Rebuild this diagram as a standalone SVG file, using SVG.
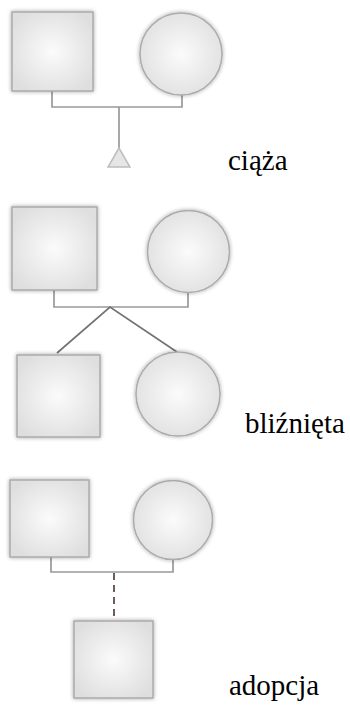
<svg xmlns="http://www.w3.org/2000/svg" width="350" height="713" viewBox="0 0 350 713">
<defs>
<radialGradient id="g" cx="50%" cy="50%" r="60%">
<stop offset="0" stop-color="#fbfbfb"/>
<stop offset="1" stop-color="#dedede"/>
</radialGradient>
<filter id="sh" x="-20%" y="-20%" width="140%" height="140%">
<feGaussianBlur in="SourceAlpha" stdDeviation="2"/>
<feComponentTransfer><feFuncA type="linear" slope="0.35"/></feComponentTransfer>
<feMerge><feMergeNode/><feMergeNode in="SourceGraphic"/></feMerge>
</filter>
<style>
.n{fill:url(#g);stroke:#ababab;stroke-width:1.5;filter:url(#sh)}
.c{fill:none;stroke:#999;stroke-width:1.7}
.c2{fill:none;stroke:#737373;stroke-width:1.7}
.d{fill:none;stroke:#5e4c4a;stroke-width:1.8;stroke-dasharray:7 5}
.t{font-size:29px;fill:#000}
</style>
</defs>
<g id="connectors">
<path class="c" d="M52 91V107H182V94"/>
<path class="c" d="M119 107V148"/>
<path class="c" d="M54 290V307H188V292"/>
<path class="c2" d="M57 353L110 307L177 352"/>
<path class="c" d="M51 557V572H173V559"/>
<path class="d" d="M114 573V619"/>
</g>
<g id="father1"><rect class="n" x="12" y="12" width="81" height="79"/></g>
<g id="mother1"><circle class="n" cx="181" cy="54" r="41"/></g>
<g id="pregnancy"><path d="M119 148L108 167H130Z" fill="#e6e6e6" stroke="#bdbdbd" stroke-width="1.5"/></g>
<g id="label1"><text class="t" font-family="Liberation Serif, DejaVu Serif, serif" x="228" y="170">ciąża</text></g>
<g id="father2"><rect class="n" x="12" y="207" width="85" height="83"/></g>
<g id="mother2"><circle class="n" cx="188.5" cy="251.5" r="41"/></g>
<g id="twin1"><rect class="n" x="17" y="355" width="83" height="82"/></g>
<g id="twin2"><circle class="n" cx="178" cy="394" r="42"/></g>
<g id="label2"><text class="t" font-family="Liberation Serif, DejaVu Serif, serif" x="245" y="433">bliźnięta</text></g>
<g id="father3"><rect class="n" x="10" y="480" width="79" height="77"/></g>
<g id="mother3"><circle class="n" cx="173" cy="520" r="39.5"/></g>
<g id="adopted"><rect class="n" x="74" y="621" width="79" height="77"/></g>
<g id="label3"><text class="t" font-family="Liberation Serif, DejaVu Serif, serif" x="229" y="695">adopcja</text></g>
</svg>
